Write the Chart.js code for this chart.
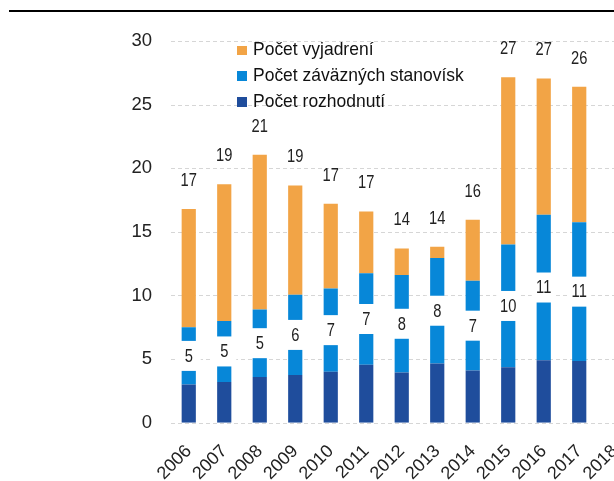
<!DOCTYPE html>
<html>
<head>
<meta charset="utf-8">
<script src="https://cdn.jsdelivr.net/npm/chart.js@4.4.0/dist/chart.umd.min.js"></script>
<style>
    html, body { margin: 0; padding: 0; background: #fff; overflow: hidden; }
    #wrap { position: relative; width: 640px; height: 481px; }
    #topLine { position: absolute; left: 9px; top: 10px; width: 640px; height: 2px; background: #000; }
    #legend { position: absolute; left: 237px; top: 36px; font-family: "Liberation Sans", Arial, sans-serif; font-size: 19px; color: #111; line-height: 25.8px; }
    #legend div { white-space: nowrap; }
    #legend span { display: inline-block; width: 9.5px; height: 9.5px; margin-right: 6px; vertical-align: 0px; }
    #legend em { font-style: normal; display: inline-block; transform: scaleX(0.92); transform-origin: left center; }
</style>
</head>
<body>
<div id="wrap">
    <div id="topLine"></div>
    <canvas id="chart"></canvas>
    <div id="legend"></div>
</div>
<script>
const years = ['2006', '2007', '2008', '2009', '2010', '2011', '2012', '2013', '2014', '2015', '2016', '2017', '2018'];
const rozhodnutia = [3.0, 3.2, 3.6, 3.75, 4.0, 4.55, 3.95, 4.65, 4.1, 4.35, 4.9, 4.85, null];
const stanoviska = [4.5, 4.8, 5.3, 6.3, 6.55, 7.2, 7.65, 8.3, 7.05, 9.65, 11.45, 10.9, null];
const vyjadrenia = [9.3, 10.75, 12.15, 8.6, 6.65, 4.85, 2.1, 0.87, 4.8, 13.15, 10.7, 10.65, null];
const yTicks = [0, 5, 10, 15, 20, 25, 30];

const colors = {
    orange: '#F2A446',
    light: '#0787D8',
    dark: '#1F4D9C'
};
const fontFamily = '"Liberation Sans", Arial, sans-serif';

// legend in reverse stack order
const legendItems = [
    ['Počet vyjadrení', colors.orange],
    ['Počet záväzných stanovísk', colors.light],
    ['Počet rozhodnutí', colors.dark]
];
const legendEl = document.getElementById('legend');
legendItems.forEach(([text, color]) => {
    const row = document.createElement('div');
    row.innerHTML = '<span style="background:' + color + '"></span><em>' + text + '</em>';
    legendEl.appendChild(row);
});

// dashed horizontal grid drawn under the bars
const dashedGrid = {
    id: 'dashedGrid',
    beforeDatasetsDraw(chart) {
        const ctx = chart.ctx;
        const y = chart.scales.y;
        const area = chart.chartArea;
        ctx.save();
        ctx.strokeStyle = '#d6d6d6';
        ctx.lineWidth = 1;
        ctx.setLineDash([4, 3]);
        yTicks.forEach(v => {
            const py = Math.round(y.getPixelForValue(v)) + 0.5;
            ctx.beginPath();
            ctx.moveTo(area.left, py);
            ctx.lineTo(area.right, py);
            ctx.stroke();
        });
        ctx.restore();
    }
};

function narrowText(ctx, text, x, y) {
    ctx.save();
    ctx.translate(x, y);
    ctx.scale(0.84, 1);
    ctx.fillText(text, 0, 0);
    ctx.restore();
}

// values on bars: middle label for stanoviska (with white box), total on top
const barLabels = {
    id: 'barLabels',
    afterDatasetsDraw(chart) {
        const ctx = chart.ctx;
        const midMeta = chart.getDatasetMeta(1);
        const topMeta = chart.getDatasetMeta(2);
        ctx.save();
        ctx.font = '17.5px ' + fontFamily;
        ctx.textAlign = 'center';
        ctx.textBaseline = 'middle';
        years.forEach((y, i) => {
            if (stanoviska[i] == null) return;
            const mid = midMeta.data[i];
            const cy = (mid.y + mid.base) / 2;
            ctx.fillStyle = '#fff';
            ctx.fillRect(mid.x - 12, cy - 15, 24, 30);
            ctx.fillStyle = '#222';
            narrowText(ctx, String(Math.round(stanoviska[i])), mid.x, cy + 1);

            const top = topMeta.data[i];
            const total = rozhodnutia[i] + stanoviska[i] + vyjadrenia[i];
            ctx.fillStyle = '#222';
            narrowText(ctx, String(Math.round(total)), top.x, top.y - 28);
        });
        ctx.restore();
    }
};

new Chart(document.getElementById('chart'), {
    type: 'bar',
    data: {
        labels: years,
        datasets: [
            { label: 'Počet rozhodnutí', data: rozhodnutia, backgroundColor: colors.dark },
            { label: 'Počet záväzných stanovísk', data: stanoviska, backgroundColor: colors.light },
            { label: 'Počet vyjadrení', data: vyjadrenia, backgroundColor: colors.orange }
        ]
    },
    options: {
        responsive: true,
        maintainAspectRatio: false,
        animation: false,
        layout: { padding: { top: 41, left: 0, right: 0, bottom: 0 } },
        datasets: {
            bar: { categoryPercentage: 1, barPercentage: 0.4, borderWidth: 0 }
        },
        plugins: {
            legend: { display: false },
            tooltip: { enabled: false }
        },
        scales: {
            x: {
                stacked: true,
                grid: { display: false },
                border: { display: false },
                ticks: {
                    color: '#222',
                    font: { family: fontFamily, size: 18 },
                    maxRotation: 45,
                    minRotation: 45,
                    padding: 10
                },
                afterFit(scale) { scale.height = 58.3; }
            },
            y: {
                stacked: true,
                min: 0,
                max: 30,
                afterBuildTicks(scale) { scale.ticks = yTicks.map(v => ({ value: v })); },
                grid: { display: false },
                border: { display: false },
                ticks: {
                    color: '#222',
                    font: { family: fontFamily, size: 18.5 },
                    padding: 11
                },
                afterFit(scale) { scale.width = 171; }
            }
        }
    },
    plugins: [dashedGrid, barLabels]
});
</script>
</body>
</html>
